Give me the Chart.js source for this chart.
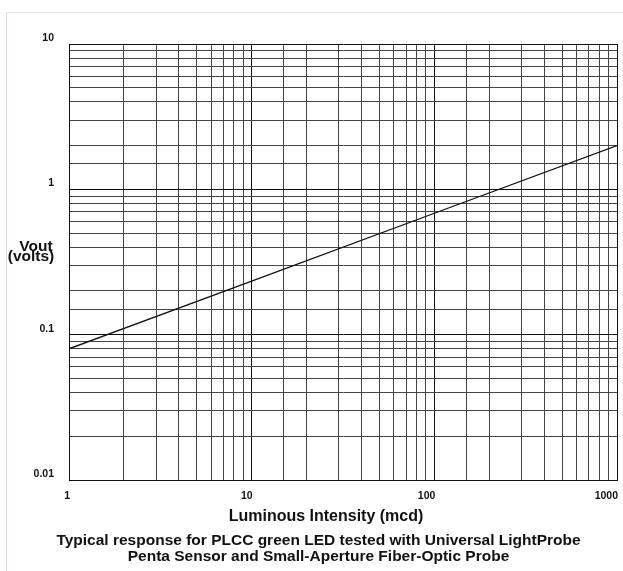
<!DOCTYPE html>
<html>
<head>
<meta charset="utf-8">
<title>Vout vs Luminous Intensity</title>
<script src="https://cdn.jsdelivr.net/npm/chart.js@4.4.1/dist/chart.umd.min.js"></script>
<style>
    html, body { margin: 0; padding: 0; background: #fff; }
    #wrap { position: relative; width: 623px; height: 571px; overflow: hidden; }
    #frame {
        position: absolute; left: 6px; top: 12px; right: 0; bottom: 0;
        border-left: 1px solid #d8d8f0; border-top: 1px solid #e2e2f4;
    }
    canvas { position: absolute; left: 0; top: 0; }
</style>
</head>
<body>
<div id="wrap">
    <div id="frame"></div>
    <canvas id="responsechart" width="623" height="571"></canvas>
</div>
<script>
"use strict";

// values (log-log, straight response line)
const intensity = [1, 10, 100, 1000];        // mcd
const vout = [0.08, 0.234, 0.685, 2.0];      // volts
const xTickLabels = ["1", "10", "100", "1000"];
const yTickLabels = ["0.01", "0.1", "1", "10"];
const xTitle = "Luminous Intensity (mcd)";
const yTitle = ["Vout", "(volts)"];
const caption = [
    "Typical response for PLCC green LED tested with Universal LightProbe",
    "Penta Sensor and Small-Aperture Fiber-Optic Probe",
];

const FONT = '"Liberation Sans", Arial, Helvetica, sans-serif';
const INK = "#111";

function labelFor(list, value) {
    const hit = list.find((l) => Math.abs(Number(l) / value - 1) < 1e-6);
    return hit === undefined ? "" : hit;
}

function isDecade(value) {
    const e = Math.log10(value);
    return Math.abs(e - Math.round(e)) < 1e-6;
}

function gridColor(ctx) {
    if (!ctx.tick) return "#444";
    return isDecade(ctx.tick.value) ? "#111" : "#444";
}

// axis titles that chart.js can't place as in the original (horizontal y title)
const sideLabels = {
    id: "sideLabels",
    afterDraw(chart) {
        const ctx = chart.ctx;
        ctx.save();
        ctx.fillStyle = INK;
        ctx.textAlign = "center";
        ctx.textBaseline = "alphabetic";
        ctx.font = "bold 15.5px " + FONT;
        ctx.fillText(yTitle[0], 36, 251);
        ctx.fillText(yTitle[1], 31, 261);
        ctx.font = "bold 16px " + FONT;
        ctx.fillText(xTitle, 326, 521);
        ctx.restore();
    },
};

document.addEventListener("DOMContentLoaded", function () {
    const canvas = document.getElementById("responsechart");
    if (!canvas) return;
    const ctx = canvas.getContext("2d");

    const points = intensity.map((x, i) => ({ x: x, y: vout[i] }));

    new Chart(ctx, {
        type: "line",
        data: {
            datasets: [
                {
                    label: "Vout",
                    data: points,
                    borderColor: INK,
                    borderWidth: 1.3,
                    pointRadius: 0,
                    fill: false,
                    tension: 0,
                },
            ],
        },
        options: {
            responsive: false,
            animation: false,
            layout: { padding: { left: 20, right: 6, top: 44, bottom: 0 } },
            plugins: {
                legend: { display: false },
                tooltip: { enabled: false },
                title: {
                    display: true,
                    position: "bottom",
                    text: caption,
                    color: INK,
                    font: { family: FONT, size: 15.5, weight: "bold", lineHeight: 1.03 },
                    padding: { top: 4, bottom: 6 },
                },
            },
            scales: {
                x: {
                    type: "logarithmic",
                    min: 1,
                    max: 1000,
                    border: { color: INK, width: 1 },
                    grid: { color: gridColor, lineWidth: 1, drawTicks: false },
                    ticks: {
                        autoSkip: false,
                        maxRotation: 0,
                        align: "end",
                        labelOffset: 1,
                        padding: 10,
                        color: INK,
                        font: { family: FONT, size: 10.5, weight: "bold" },
                        callback: (value) => labelFor(xTickLabels, value),
                    },
                    afterFit: (s) => {
                        s.height = 49;
                        s.paddingRight = 0;
                    },
                },
                y: {
                    type: "logarithmic",
                    min: 0.01,
                    max: 10,
                    border: { color: INK, width: 1 },
                    grid: { color: gridColor, lineWidth: 1, drawTicks: false },
                    ticks: {
                        autoSkip: false,
                        crossAlign: "near",
                        padding: 15,
                        labelOffset: -6,
                        color: INK,
                        font: { family: FONT, size: 10.5, weight: "bold" },
                        callback: (value) => labelFor(yTickLabels, value),
                    },
                    afterFit: (s) => { s.width = 49; },
                },
            },
        },
        plugins: [sideLabels],
    });
});
</script>
</body>
</html>
